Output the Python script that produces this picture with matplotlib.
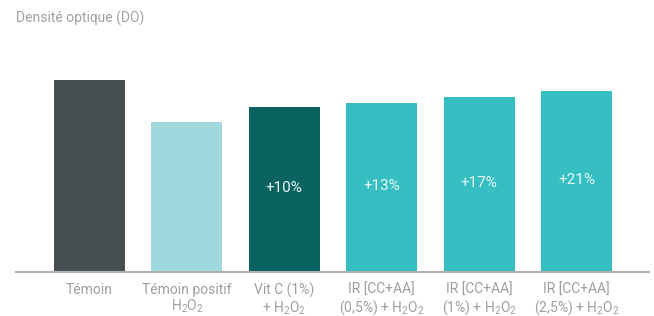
import matplotlib.pyplot as plt

plt.rcParams['font.family'] = ['Roboto', 'DejaVu Sans']
plt.rcParams['mathtext.fontset'] = 'custom'
plt.rcParams['mathtext.rm'] = 'Roboto'
plt.rcParams['mathtext.it'] = 'Roboto'

# Data (optical density, relative to positive control = 1.0)
categories = ['Témoin',
              'Témoin positif\n$\\mathregular{H_2O_2}$',
              'Vit C (1%)\n+ $\\mathregular{H_2O_2}$',
              'IR [CC+AA]\n(0,5%) + $\\mathregular{H_2O_2}$',
              'IR [CC+AA]\n(1%) + $\\mathregular{H_2O_2}$',
              'IR [CC+AA]\n(2,5%) + $\\mathregular{H_2O_2}$']
values = [1.28, 1.0, 1.10, 1.13, 1.17, 1.21]
gains = ['', '', '+10%', '+13%', '+17%', '+21%']
colors = ['#454f4f', '#9fd8dd', '#0a6360', '#35bfc2', '#35bfc2', '#35bfc2']

fig = plt.figure(figsize=(6.54, 3.16), dpi=100)
ax = fig.add_axes([16 / 654, 1 - 272 / 316, 633 / 654, 232 / 316])

x = list(range(len(values)))
ax.bar(x, values, width=0.73, color=colors, zorder=2)

for xi, v, g in zip(x, values, gains):
    if g:
        ax.text(xi, v / 2 + 0.01, g, ha='center', va='center',
                color='#eaf7f7', fontsize=11)

ax.set_xlim(-0.755, 5.744)
ax.set_ylim(0, 1.547)
ax.set_xticks(x)
ax.set_xticklabels(categories, color='#9e9e9e', fontsize=10, linespacing=1.05)
ax.tick_params(axis='x', length=0, pad=8)
ax.set_yticks([])

for side in ['top', 'right', 'left']:
    ax.spines[side].set_visible(False)
ax.spines['bottom'].set_color('#b0b0b0')
ax.spines['bottom'].set_linewidth(1.5)

fig.text(16 / 654, 1 - 18 / 316, 'Densité optique (DO)', ha='left', va='center',
         color='#a0a0a0', fontsize=10)

fig.savefig('out.png', dpi=100)
